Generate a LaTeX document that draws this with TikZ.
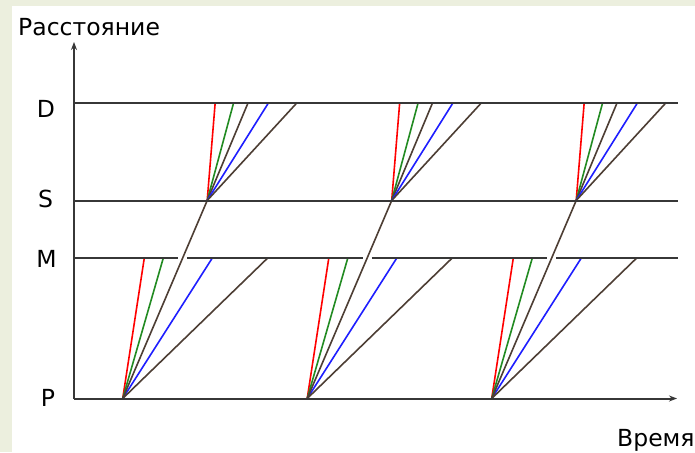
\documentclass[tikz,border=0pt]{standalone}
\usepackage{fontspec}
\setmainfont{DejaVu Sans}
\usetikzlibrary{arrows.meta}
\definecolor{bgc}{RGB}{236,239,222}
\definecolor{axc}{RGB}{55,55,55}
\definecolor{brn}{RGB}{77,62,52}
\definecolor{grn}{RGB}{34,139,34}
\definecolor{blu}{RGB}{30,30,255}
\definecolor{rd}{RGB}{255,0,0}
\begin{document}
\begin{tikzpicture}[x=1pt,y=-1pt,
  axis/.style={draw=axc,line width=2pt},
  ray/.style={line width=1.6pt},
  lbl/.style={font=\fontsize{23.5}{28}\selectfont,anchor=base,inner sep=0pt,text=black}]
\fill[bgc] (0,0) rectangle (695,452);
\fill[white] (12,6) rectangle (695,452);
\useasboundingbox (0,0) rectangle (695,452);

% rays
\foreach \i in {0,1,2}{
  \pgfmathsetmacro\xp{122.7+184.5*\i}
  \pgfmathsetmacro\xs{\xp+84.5}
  \coordinate (P\i) at (\xp,398.5);
  \coordinate (S\i) at (\xs,200.5);
  \coordinate (mr\i) at (\xp+21.6,258);
  \coordinate (mg\i) at (\xp+40.6,258);
  \coordinate (mb\i) at (\xp+89.6,258);
  \coordinate (mn\i) at (\xp+145,258);
  \coordinate (dr\i) at (\xs+8,102.5);
  \coordinate (dg\i) at (\xs+26.5,102.5);
  \coordinate (dn\i) at (\xs+41,102.5);
  \coordinate (db\i) at (\xs+61.5,102.5);
  \coordinate (dm\i) at (\xs+90,102.5);
  \coordinate (Ga\i) at (\xp+55.3,258);
  \coordinate (Gb\i) at (\xp+64.7,258);
  \draw[ray,rd] (P\i) -- (mr\i);
  \draw[ray,grn] (P\i) -- (mg\i);
  \draw[ray,blu] (P\i) -- (mb\i);
  \draw[ray,brn] (P\i) -- (mn\i);
  \draw[ray,brn] (P\i) -- (S\i);
  \draw[ray,rd] (S\i) -- (dr\i);
  \draw[ray,grn] (S\i) -- (dg\i);
  \draw[ray,brn] (S\i) -- (dn\i);
  \draw[ray,blu] (S\i) -- (db\i);
  \draw[ray,brn] (S\i) -- (dm\i);
}

% axes and levels
\coordinate (O) at (74,398.5);
\coordinate (Ytop) at (74,42);
\coordinate (Xend) at (677,398.5);
\coordinate (Dl) at (74,102.5);
\coordinate (Dr) at (678,102.5);
\coordinate (Sl) at (74,200.5);
\coordinate (Sr) at (678,200.5);
\coordinate (Ml) at (74,258);
\coordinate (Mr) at (678,258);
\draw[axis] (Dl) -- (Dr);
\draw[axis] (Sl) -- (Sr);
\draw[axis] (Ml) -- (Ga0) (Gb0) -- (Ga1) (Gb1) -- (Ga2) (Gb2) -- (Mr);
\draw[axis,-{Stealth[length=8pt,width=6pt]}] (O) -- (Ytop);
\draw[axis,-{Stealth[length=8pt,width=6pt]}] (O) -- (Xend);

% labels
\node[lbl] (lD) at (46,117) {D};
\node[lbl] (lS) at (45.5,207.5) {S};
\node[lbl] (lM) at (46.5,267) {M};
\node[lbl] (lP) at (48,406) {P};
\node[lbl,anchor=base west] (ly) at (18,36) {Расстояние};
\node[lbl,anchor=base west] (lx) at (617,446.5) {Время};
\end{tikzpicture}
\end{document}
